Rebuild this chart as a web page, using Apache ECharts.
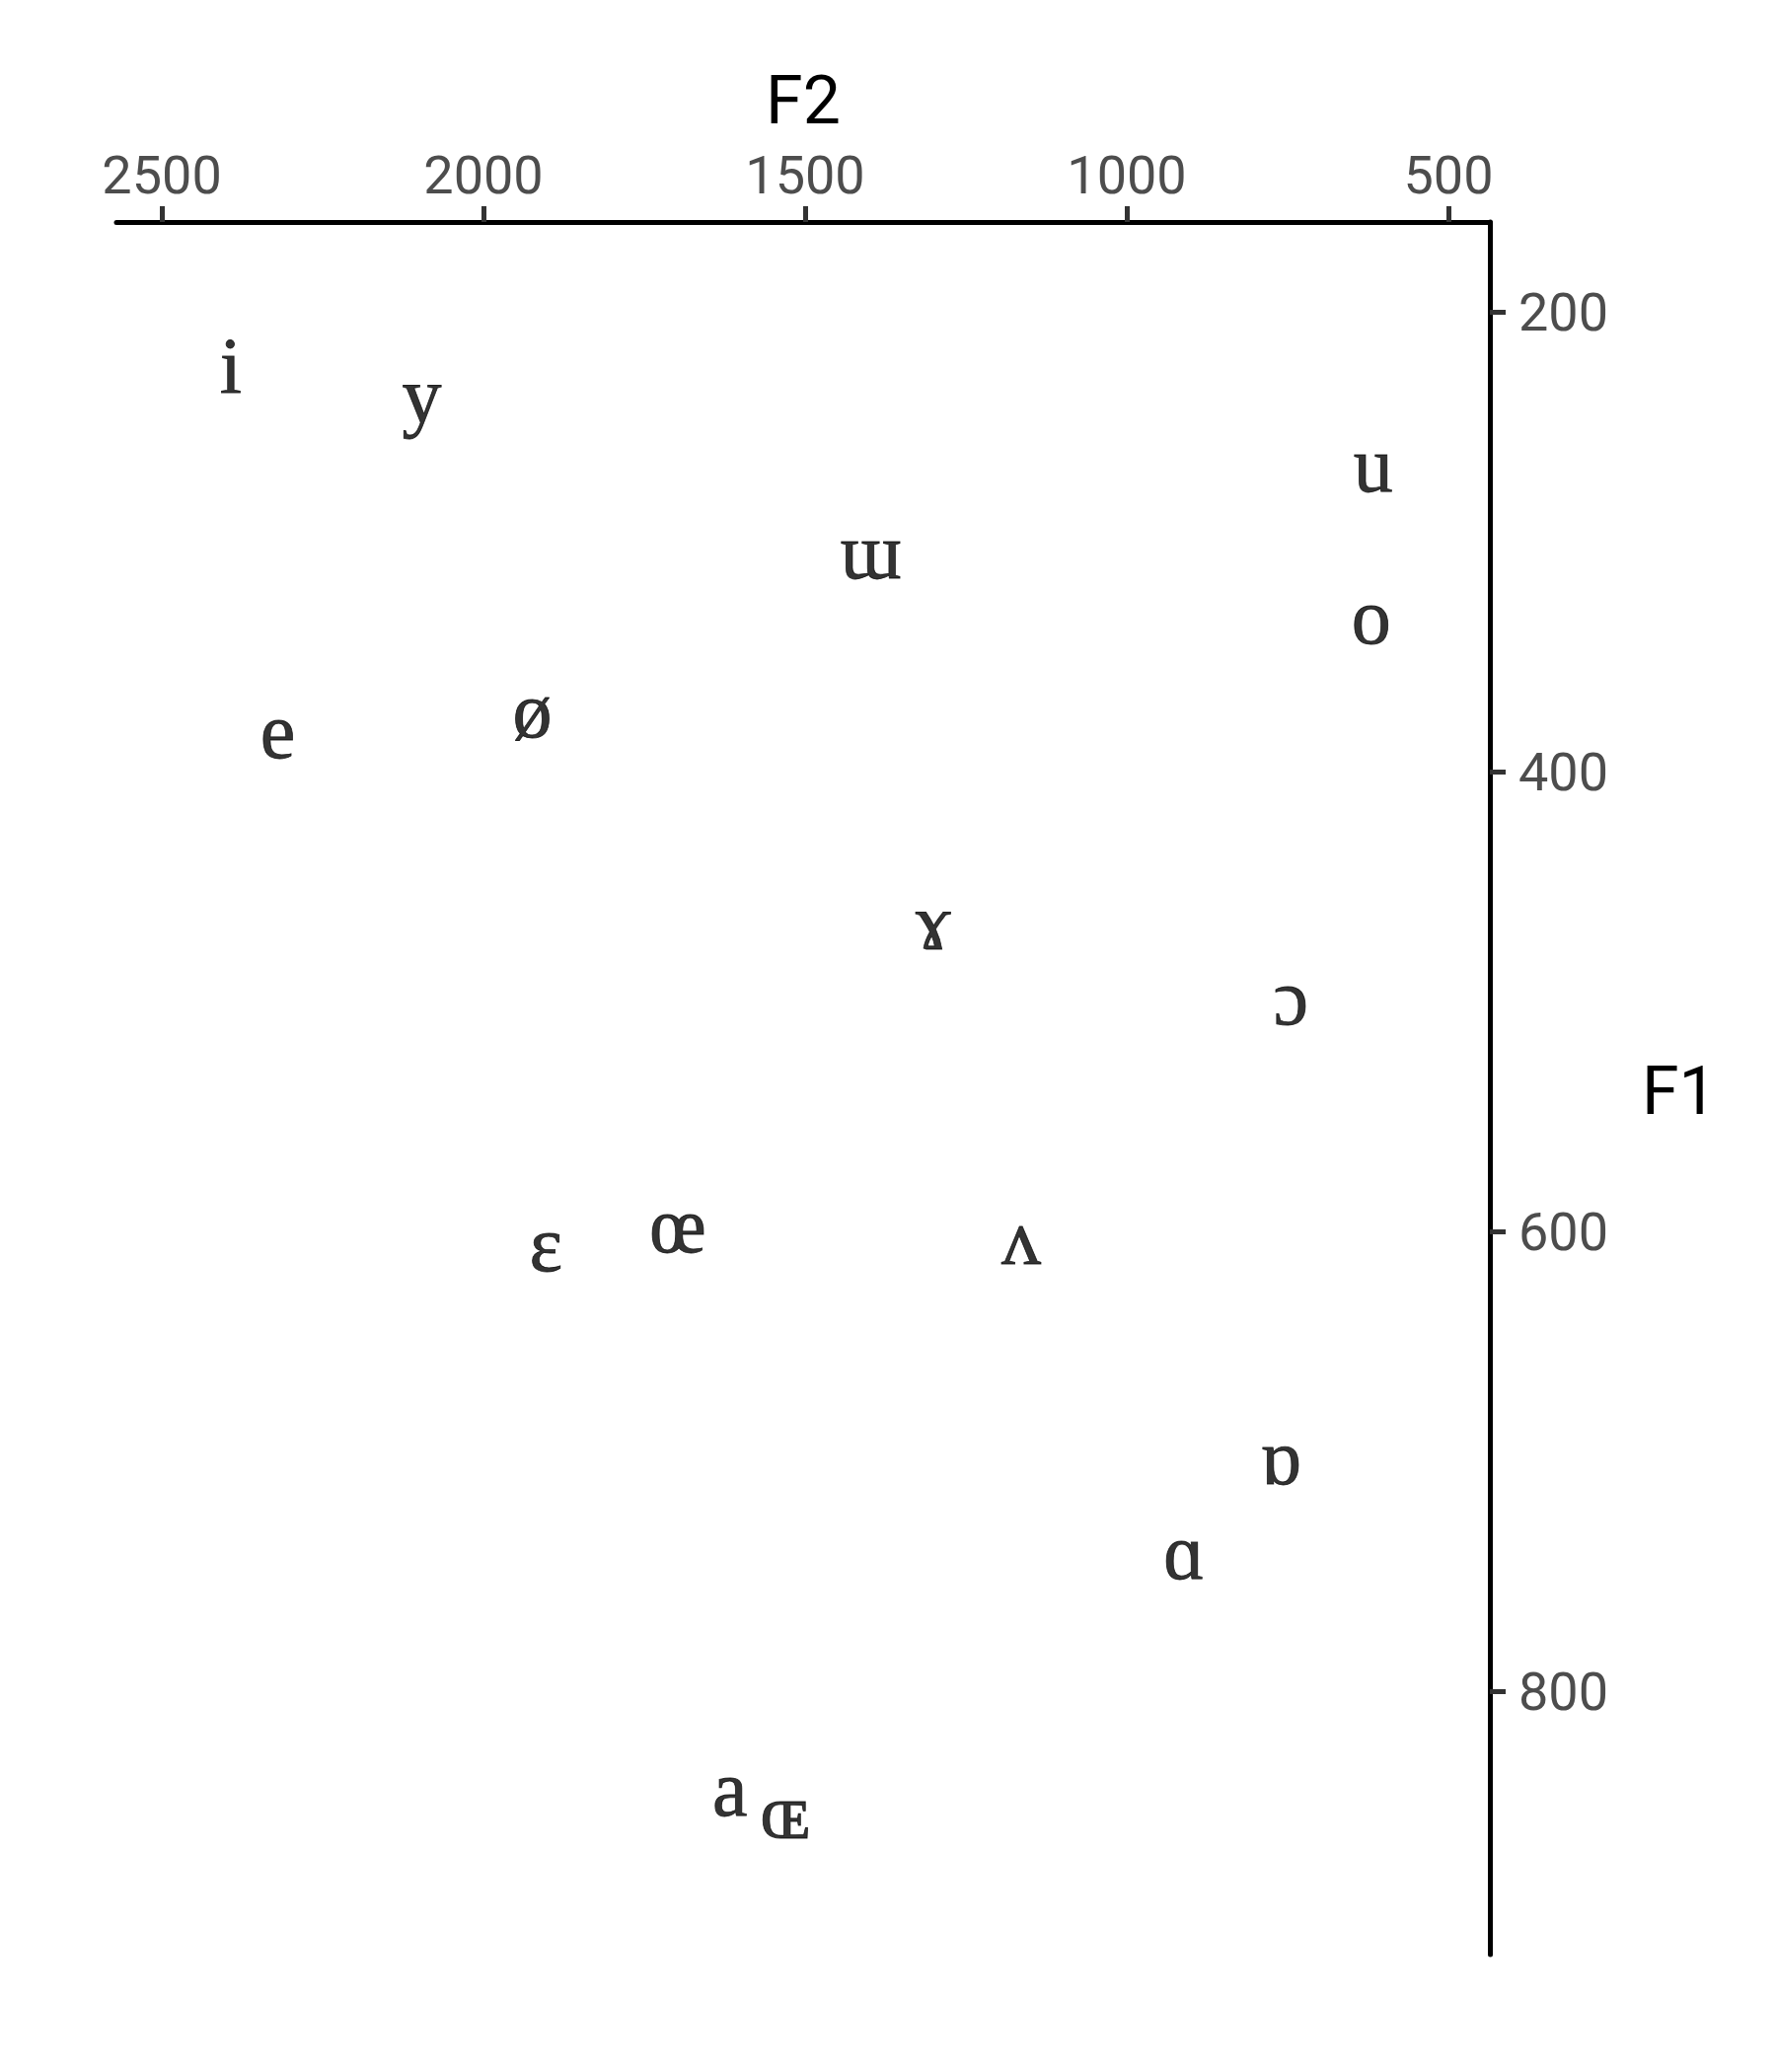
<!DOCTYPE html>
<html>
<head>
<meta charset="utf-8">
<script src="https://cdn.jsdelivr.net/npm/echarts@6/dist/echarts.min.js"></script>
<style>
html,body{margin:0;padding:0;background:#fff;}
#chart{width:1800px;height:2100px;}
</style>
</head>
<body>
<div id="chart"></div>
<script>
// Vowel symbols and their formants (Hz)
const vowels = ['i', 'y', 'u', 'ɯ', 'o', 'e', 'ø', 'ɤ', 'ɔ', 'ɛ', 'œ', 'ʌ', 'ɒ', 'ɑ', 'a', 'ɶ'];
const f2 = [2393, 2096, 617, 1398, 620, 2320, 1924, 1301, 745, 1903, 1698, 1164, 761, 911, 1617, 1531];
const f1 = [226, 239, 269, 307, 335, 385, 376, 468, 501, 608, 600, 605, 701, 742, 845, 855];

// Axis ticks
const f2Ticks = [500, 1000, 1500, 2000, 2500];
const f1Ticks = [200, 400, 600, 800];
const f2Range = [435.6, 2570.6];
const f1Range = [160.9, 914.7];

const data = vowels.map((v, k) => ({ name: v, value: [f2[k], f1[k]] }));

const chart = echarts.init(document.getElementById('chart'), null, { renderer: 'canvas' });
chart.setOption({
  backgroundColor: '#ffffff',
  animation: false,
  grid: { left: 118, right: 290, top: 225, bottom: 119, containLabel: false },
  xAxis: {
    type: 'value',
    position: 'top',
    inverse: true,
    min: f2Range[0],
    max: f2Range[1],
    name: 'F2',
    nameLocation: 'middle',
    nameGap: 83,
    nameTextStyle: { fontFamily: 'Roboto', fontSize: 68, color: '#000000' },
    axisLine: { show: true, lineStyle: { color: '#000000', width: 5 } },
    axisTick: { show: true, customValues: f2Ticks, length: 16, lineStyle: { color: '#333333', width: 5 } },
    axisLabel: { show: true, customValues: f2Ticks, margin: 16, fontFamily: 'Roboto', fontSize: 54, color: '#4D4D4D',
      formatter: v => String(v) },
    splitLine: { show: false }
  },
  yAxis: {
    type: 'value',
    position: 'right',
    inverse: true,
    min: f1Range[0],
    max: f1Range[1],
    name: 'F1',
    nameLocation: 'middle',
    nameRotate: 0,
    nameGap: 154,
    nameTextStyle: { fontFamily: 'Roboto', fontSize: 68, color: '#000000', verticalAlign: 'top', lineHeight: 18 },
    axisLine: { show: true, lineStyle: { color: '#000000', width: 5 } },
    axisTick: { show: true, customValues: f1Ticks, length: 16, lineStyle: { color: '#333333', width: 5 } },
    axisLabel: { show: true, customValues: f1Ticks, margin: 29, fontFamily: 'Roboto', fontSize: 54, color: '#4D4D4D',
      verticalAlign: 'top', lineHeight: 11, formatter: v => String(v) },
    splitLine: { show: false }
  },
  series: [{
    type: 'scatter',
    data: data,
    symbolSize: 1,
    itemStyle: { color: 'rgba(0,0,0,0)' },
    label: {
      show: true,
      position: 'inside',
      formatter: '{b}',
      fontFamily: "'Liberation Serif', 'DejaVu Serif', serif",
      fontSize: 80,
      color: '#000000',
      textBorderColor: '#000000',
      textBorderWidth: 0.8,
      align: 'center',
      verticalAlign: 'middle'
    },
    labelLayout: { hideOverlap: false },
    emphasis: { disabled: true }
  }]
});
</script>
</body>
</html>
